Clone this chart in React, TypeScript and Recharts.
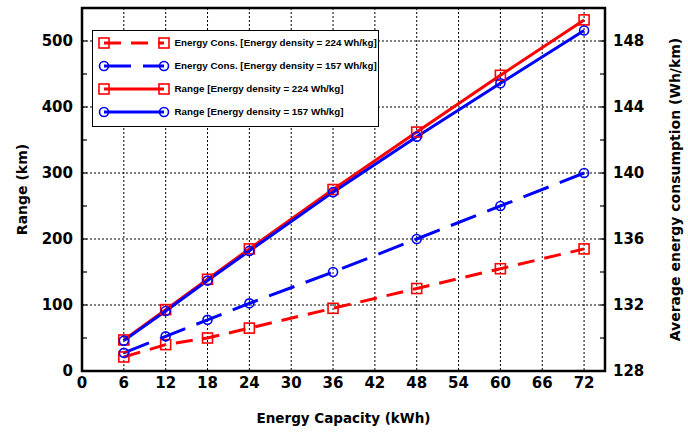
import React from "react";
import { ComposedChart, Line, XAxis, YAxis, CartesianGrid, ReferenceLine, ReferenceArea } from "recharts";

// Energy capacity (kWh)
const capacity = [6, 12, 18, 24, 36, 48, 60, 72];
// Range (km), left axis
const range224 = [47, 93, 139, 185, 275, 362, 448, 532];
const range157 = [46, 91, 137, 182, 271, 355, 436, 516];
// Average energy consumption (Wh/km), right axis
const cons224 = [128.85, 129.6, 130.0, 130.6, 131.8, 133.0, 134.2, 135.4];
const cons157 = [129.1, 130.1, 131.1, 132.1, 134.0, 136.0, 138.0, 140.0];

const xTicks = [0, 6, 12, 18, 24, 30, 36, 42, 48, 54, 60, 66, 72];
const rangeTicks = [0, 50, 100, 150, 200, 250, 300, 350, 400, 450, 500];
const rangeGrid = [100, 200, 300, 400, 500];
const consTicks = [128, 130, 132, 134, 136, 138, 140, 142, 144, 146, 148];

const data = capacity.map((c, i) => ({
    capacity: c,
    range224: range224[i],
    range157: range157[i],
    cons224: cons224[i],
    cons157: cons157[i],
}));

const RED = "#ff0000";
const BLUE = "#0000ff";
const FONT = "'DejaVu Sans', Verdana, sans-serif";

const series = [
    { key: "cons224", name: "Energy Cons. [Energy density = 224 Wh/kg]", color: RED, dash: "17 10", marker: "square", axis: "right" },
    { key: "cons157", name: "Energy Cons. [Energy density = 157 Wh/kg]", color: BLUE, dash: "27 12", marker: "circle", axis: "right" },
    { key: "range224", name: "Range [Energy density = 224 Wh/kg]", color: RED, dash: undefined, marker: "square", axis: "left" },
    { key: "range157", name: "Range [Energy density = 157 Wh/kg]", color: BLUE, dash: undefined, marker: "circle", axis: "left" },
];

function Marker({ cx, cy, kind, color }: { cx: number; cy: number; kind: string; color: string }) {
    if (cx == null || cy == null) return null;
    if (kind === "square") {
        return <rect x={cx - 5} y={cy - 5} width={10} height={10} fill="none" stroke={color} strokeWidth={1.6} />;
    }
    return <circle cx={cx} cy={cy} r={4.5} fill="none" stroke={color} strokeWidth={1.6} />;
}

const textStyle = { fontFamily: FONT, fontWeight: 700, fontSize: 15, fill: "#000" };

const LeftTick = (props: any) => {
    const { x, y, payload } = props;
    const v = payload.value;
    const ax = x + 9;
    return (
        <g>
            <line x1={ax} x2={ax + 5} y1={y} y2={y} stroke="#000" strokeWidth={1.2} />
            {v % 100 === 0 && (
                <text x={x} y={y} dy="0.36em" textAnchor="end" style={textStyle}>
                    {v}
                </text>
            )}
        </g>
    );
};

const RightTick = (props: any) => {
    const { x, y, payload } = props;
    const v = payload.value;
    const ax = x - 8;
    return (
        <g>
            <line x1={ax} x2={ax - 5} y1={y} y2={y} stroke="#000" strokeWidth={1.2} />
            {(v - 128) % 4 === 0 && (
                <text x={x} y={y} dy="0.36em" textAnchor="start" style={textStyle}>
                    {v}
                </text>
            )}
        </g>
    );
};

const BottomTick = (props: any) => {
    const { x, y, payload } = props;
    return (
        <text x={x} y={y} dy="0.72em" textAnchor="middle" style={textStyle}>
            {payload.value}
        </text>
    );
};

function LegendBox() {
    return (
        <div
            style={{
                position: "absolute",
                left: 92,
                top: 30,
                width: 287,
                height: 97,
                boxSizing: "border-box",
                border: "1.5px solid #000",
                background: "#fff",
                fontFamily: "'Liberation Sans', Arial, sans-serif",
                fontWeight: 700,
                fontSize: 9.8,
                color: "#000",
                whiteSpace: "nowrap",
            }}
        >
            {series.map((s) => (
                <div key={s.key} style={{ display: "flex", alignItems: "center", height: 23 }}>
                    <svg width={72} height={14} style={{ marginLeft: 4.5, marginRight: 5, overflow: "visible", flex: "none" }}>
                        <line x1={6} x2={66} y1={7} y2={7} stroke={s.color} strokeWidth={3} strokeDasharray={s.dash} />
                        <Marker cx={6} cy={7} kind={s.marker} color={s.color} />
                        <Marker cx={66} cy={7} kind={s.marker} color={s.color} />
                    </svg>
                    <span>{s.name}</span>
                </div>
            ))}
        </div>
    );
}

export default function App() {
    return (
        <div style={{ position: "absolute", left: 0, top: 0, width: 688, height: 432, background: "#fff" }}>
            <ComposedChart width={688} height={432} data={data} margin={{ top: 8, right: 0, bottom: 0, left: 0 }}>
                <CartesianGrid vertical horizontal={false} stroke="#000" strokeDasharray="2 2" strokeWidth={1} />
                {rangeGrid.map((v) => (
                    <ReferenceLine key={v} yAxisId="left" y={v} stroke="#000" strokeDasharray="2 2" strokeWidth={1} />
                ))}
                <XAxis
                    dataKey="capacity"
                    type="number"
                    domain={[0, 75]}
                    ticks={xTicks}
                    interval={0}
                    height={61}
                    axisLine={false}
                    tickLine={false}
                    tickSize={0}
                    tickMargin={6}
                    tick={<BottomTick />}
                    label={{
                        value: "Energy Capacity (kWh)",
                        position: "insideBottom",
                        offset: 9,
                        style: { fontFamily: FONT, fontWeight: 700, fontSize: 13.5, fill: "#000" },
                    }}
                />
                <YAxis
                    yAxisId="left"
                    type="number"
                    domain={[0, 550]}
                    ticks={rangeTicks}
                    interval={0}
                    width={82}
                    axisLine={false}
                    tickLine={false}
                    tickSize={0}
                    tickMargin={9}
                    tick={<LeftTick />}
                    label={{
                        value: "Range (km)",
                        angle: -90,
                        position: "insideLeft",
                        offset: 22,
                        style: { textAnchor: "middle", fontFamily: FONT, fontWeight: 700, fontSize: 14, fill: "#000" },
                    }}
                />
                <YAxis
                    yAxisId="right"
                    orientation="right"
                    type="number"
                    domain={[128, 150]}
                    ticks={consTicks}
                    interval={0}
                    width={83}
                    axisLine={false}
                    tickLine={false}
                    tickSize={0}
                    tickMargin={8}
                    tick={<RightTick />}
                    label={{
                        value: "Average energy consumption (Wh/km)",
                        angle: -90,
                        position: "insideRight",
                        offset: 13,
                        style: { textAnchor: "middle", fontFamily: FONT, fontWeight: 700, fontSize: 14, fill: "#000" },
                    }}
                />
                <ReferenceArea
                    yAxisId="left"
                    x1={0}
                    x2={75}
                    y1={0}
                    y2={550}
                    fill="none"
                    fillOpacity={0}
                    stroke="#000"
                    strokeWidth={2.5}
                    ifOverflow="visible"
                />
                {series.map((s) => (
                    <Line
                        key={s.key}
                        yAxisId={s.axis}
                        dataKey={s.key}
                        name={s.name}
                        type="linear"
                        stroke={s.color}
                        strokeWidth={3}
                        strokeDasharray={s.dash}
                        dot={(p: any) => <Marker key={`${s.key}-${p.index}`} cx={p.cx} cy={p.cy} kind={s.marker} color={s.color} />}
                        activeDot={false}
                        isAnimationActive={false}
                    />
                ))}
            </ComposedChart>
            <LegendBox />
        </div>
    );
}
